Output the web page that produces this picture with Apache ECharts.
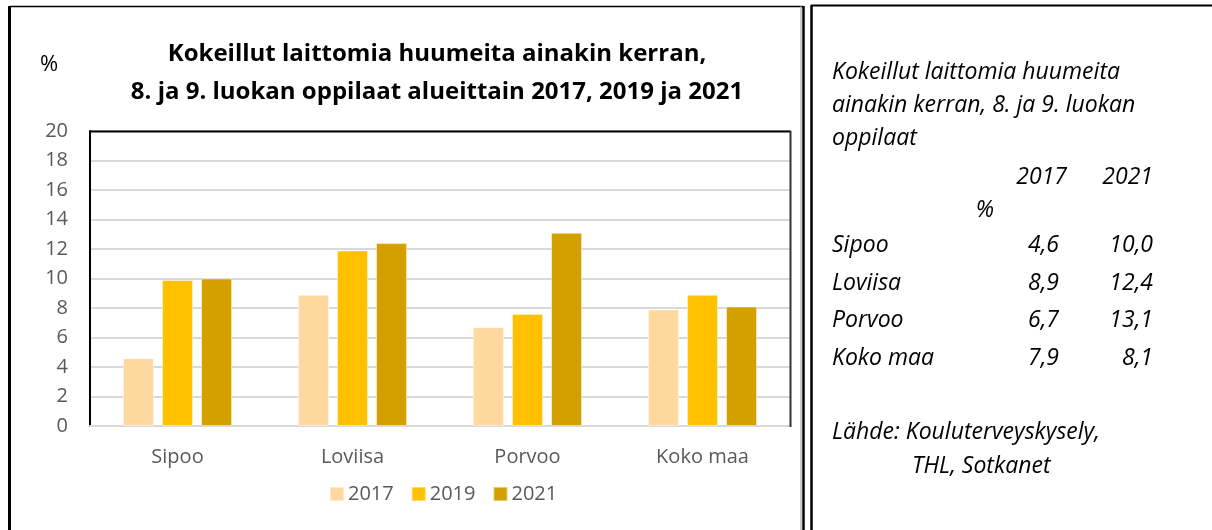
<!DOCTYPE html>
<html>
<head>
<meta charset="utf-8">
<script src="https://cdn.jsdelivr.net/npm/echarts@6/dist/echarts.min.js"></script>
<style>
html,body{margin:0;padding:0;background:#fff;}
#c{width:1212px;height:530px;}
</style>
</head>
<body>
<div id="c"></div>
<script>
var categories = ['Sipoo', 'Loviisa', 'Porvoo', 'Koko maa'];
var years = ['2017', '2019', '2021'];
var v2017 = [4.6, 8.9, 6.7, 7.9];
var v2019 = [9.9, 11.9, 7.6, 8.9];
var v2021 = [10.0, 12.4, 13.1, 8.1];
var yTicks = [0, 2, 4, 6, 8, 10, 12, 14, 16, 18, 20];
var colors = ['#FFD8A0', '#FFC000', '#D4A000'];

var titleText = 'Kokeillut laittomia huumeita ainakin kerran,\n8. ja 9. luokan oppilaat alueittain 2017, 2019 ja 2021';
var sideTitle = ['Kokeillut laittomia huumeita', 'ainakin kerran, 8. ja 9. luokan', 'oppilaat'];
var sourceLines = ['Lähde: Kouluterveyskysely,', 'THL, Sotkanet'];

function fmt(v){ return v.toFixed(1).replace('.', ','); }

var FONT = '"Open Sans", "Noto Sans", sans-serif';
var SIDE = 'italic 23px ' + FONT;
var chart = echarts.init(document.getElementById('c'), null, {renderer:'canvas'});

var g = [];
// left box
g.push({type:'line', shape:{x1:9.5, y1:6.5, x2:803, y2:6.5}, style:{stroke:'#000', lineWidth:1.5}});
g.push({type:'line', shape:{x1:9.5, y1:6, x2:9.5, y2:530}, style:{stroke:'#000', lineWidth:3}});
g.push({type:'line', shape:{x1:801, y1:6, x2:801, y2:530}, style:{stroke:'#999', lineWidth:1}});
g.push({type:'line', shape:{x1:803.5, y1:6, x2:803.5, y2:530}, style:{stroke:'#000', lineWidth:2.5}});
// right box
g.push({type:'line', shape:{x1:811, y1:5.5, x2:1212, y2:5.5}, style:{stroke:'#000', lineWidth:2}});
g.push({type:'line', shape:{x1:811.5, y1:5, x2:811.5, y2:530}, style:{stroke:'#000', lineWidth:2.5}});
// percent label
g.push({type:'text', x:49, y:65, style:{text:'%', font:'22px ' + FONT, fill:'#000', verticalAlign:'middle', align:'center'}});

// side panel text
var rowY = [72, 105, 138];
sideTitle.forEach(function(t, i){
  g.push({type:'text', x:832, y:rowY[i], style:{text:t, font:SIDE, fill:'#000', verticalAlign:'middle', align:'left'}});
});
var colX = [1059, 1153];
g.push({type:'text', x:1067, y:177, style:{text:years[0], font:SIDE, fill:'#000', verticalAlign:'middle', align:'right'}});
g.push({type:'text', x:1153, y:177, style:{text:years[2], font:SIDE, fill:'#000', verticalAlign:'middle', align:'right'}});
g.push({type:'text', x:985, y:210, style:{text:'%', font:SIDE, fill:'#000', verticalAlign:'middle', align:'center'}});
var tableY = [245, 283, 320, 358];
categories.forEach(function(c, i){
  g.push({type:'text', x:832, y:tableY[i], style:{text:c, font:SIDE, fill:'#000', verticalAlign:'middle', align:'left'}});
  g.push({type:'text', x:colX[0], y:tableY[i], style:{text:fmt(v2017[i]), font:SIDE, fill:'#000', verticalAlign:'middle', align:'right'}});
  g.push({type:'text', x:colX[1], y:tableY[i], style:{text:fmt(v2021[i]), font:SIDE, fill:'#000', verticalAlign:'middle', align:'right'}});
});
g.push({type:'text', x:832, y:432, style:{text:sourceLines[0], font:SIDE, fill:'#000', verticalAlign:'middle', align:'left'}});
g.push({type:'text', x:912, y:466, style:{text:sourceLines[1], font:SIDE, fill:'#000', verticalAlign:'middle', align:'left'}});
// plot area top and right borders
g.push({type:'line', z:10, shape:{x1:90, y1:131.5, x2:791, y2:131.5}, style:{stroke:'#000', lineWidth:2}});
g.push({type:'line', z:10, shape:{x1:790.5, y1:131, x2:790.5, y2:427}, style:{stroke:'#333', lineWidth:2}});

function mk(name, data, color){
  return {name:name, type:'bar', data:data, barWidth:31, barGap:'26%',
    itemStyle:{color:color, borderColor:'rgba(255,255,255,0.45)', borderWidth:1}};
}

chart.setOption({
  animation:false,
  backgroundColor:'#fff',
  title:{text:titleText, left:432, textAlign:'center', top:30,
    textStyle:{fontFamily:FONT, fontWeight:'bold', fontSize:24, color:'#000', lineHeight:38}},
  legend:{bottom:21, left:324, itemWidth:14, itemHeight:14, itemGap:17,
    icon:'rect', data:years,
    textStyle:{fontFamily:FONT, fontSize:20, color:'#595959', padding:[0,0,0,-1]}},
  grid:{left:90, right:422, top:131, bottom:104, containLabel:false},
  xAxis:{type:'category', data:categories,
    axisLine:{lineStyle:{color:'#D9D9D9', width:2}},
    axisTick:{show:false},
    axisLabel:{fontFamily:FONT, fontSize:20, color:'#595959', margin:21}},
  yAxis:{type:'value', min:0, max:20, interval:2,
    axisLine:{show:true, lineStyle:{color:'#000', width:2}},
    axisTick:{show:false},
    axisLabel:{fontFamily:FONT, fontSize:20, color:'#595959', margin:22,
      formatter:function(v){ return yTicks.indexOf(v) >= 0 ? String(v) : ''; }},
    splitLine:{lineStyle:{color:'#D9D9D9', width:2}}},
  series:[mk(years[0], v2017, colors[0]), mk(years[1], v2019, colors[1]), mk(years[2], v2021, colors[2])],
  graphic:g
});
</script>
</body>
</html>
